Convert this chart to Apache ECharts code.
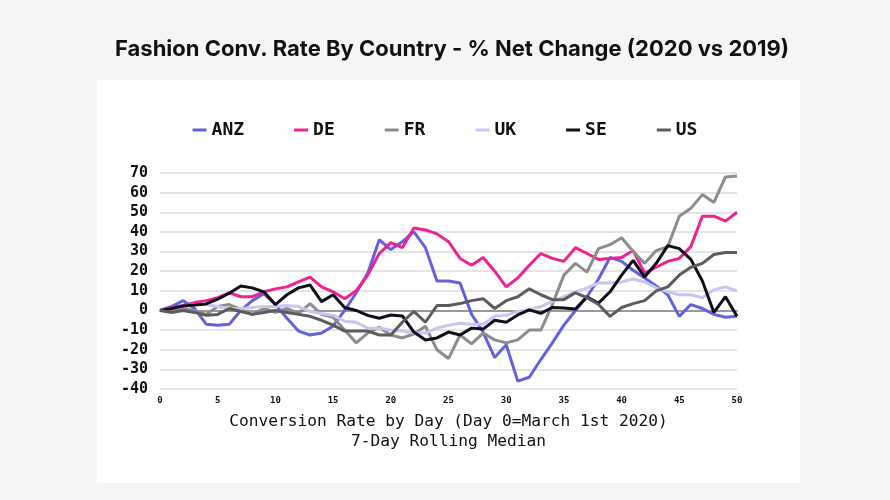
<!DOCTYPE html>
<html>
<head>
<meta charset="utf-8">
<style>
  html, body { margin: 0; padding: 0; background: #f5f5f5; }
  #chart { width: 890px; height: 500px; }
</style>
<script src="https://cdn.jsdelivr.net/npm/echarts@6/dist/echarts.min.js"></script>
</head>
<body>
<div id="chart"></div>
<script>
// day 0 = March 1st 2020
var days = [];
for (var d = 0; d <= 50; d++) days.push(String(d));

var anz = [0, 2, 5, 1, -7, -7.5, -7, 0, 5, 8.5, 3,
  -4, -10.5, -12.5, -11.5, -8, 0, 9, 19, 36, 31,
  35, 40, 32, 15, 15, 14, -2, -11, -24, -17.5,
  -36, -34, -25, -16.5, -7.5, 0, 7, 16, 27, 25,
  20.5, 16.5, 12.5, 8, -3, 3, 1, -2, -3.5, -3];
var de = [0, 1.5, 2.5, 4, 5, 6.5, 9, 7, 7, 9.5, 11,
  12, 14.5, 17, 12, 9.5, 6, 10, 18, 29, 34.5,
  32, 42, 41, 39, 35, 26.5, 23, 27, 20, 12,
  16.5, 23, 29, 26.5, 25, 32, 29, 26, 26.5, 27,
  30.5, 19, 22, 25, 26.5, 32.5, 48, 48, 45.5, 50];
var fr = [0, 0, 1, 0, -2, 2, 3, 0.5, -2, 1, -1,
  1, -1.5, 3.5, -2, -3.5, -10, -16.5, -11.5, -8.5, -12.5,
  -14, -12, -8, -20, -24.5, -12.5, -17, -11.5, -15, -16.5,
  -15, -10, -10, 3, 18, 24, 19.5, 31.5, 33.5, 37,
  30, 24, 30.5, 32.5, 48, 52, 59, 55, 68, 68.5];
var uk = [0, 1, 2, 3, 3, 2, 1, 1, 1.5, 2, 2,
  2.5, 2, -0.5, -1.5, -2.5, -5.5, -6, -9, -9, -10,
  -10.5, -11.5, -11.5, -9, -7.5, -6.5, -7, -7, -3, -2.5,
  -0.5, 0.5, 2, 4.5, 7, 9.5, 11.5, 14, 14, 14.5,
  16, 14.5, 11.5, 9.5, 8, 8, 6.5, 10.5, 12, 10];
var se = [0, 1, 2.3, 2.8, 3.3, 5.8, 8.8, 12.5, 11.5, 9.5, 3,
  8, 11.5, 13, 4.5, 8, 1.5, 0, -2.5, -4, -2.3,
  -2.8, -11, -15, -14, -11, -12.5, -9, -9.5, -5, -6,
  -2.3, 0.3, -1.5, 1.5, 1.2, 0.7, 7, 3.7, 9.5, 18,
  25.5, 17, 24, 33, 31.5, 26, 15, -1, 7, -3];
var us = [0, -1, 0, -1, -2.5, -2, 1, -0.5, -2, -1, 0,
  -1, -2, -3, -5, -7.5, -10.5, -10.5, -10.5, -12.5, -12.5,
  -6, -0.5, -6, 2.5, 2.5, 3.5, 5, 6, 1, 5,
  7, 11, 8, 5.5, 5.5, 9, 6.5, 3, -3, 1.5,
  3.5, 5, 10, 12, 18, 22, 24, 28.5, 29.5, 29.5];

var names = ['ANZ', 'DE', 'FR', 'UK', 'SE', 'US'];
var colors = ['#6461dd', '#ee2290', '#8c8c8c', '#c8c5f0', '#10101c', '#5c5c5c'];
var values = [anz, de, fr, uk, se, us];

var mono = '"DejaVu Sans Mono", monospace';

var series = [];
for (var i = 0; i < names.length; i++) {
  series.push({
    name: names[i], type: 'line', data: values[i],
    symbol: 'none', smooth: false,
    lineStyle: {width: 3, color: colors[i]},
    itemStyle: {color: colors[i]}
  });
}

var chart = echarts.init(document.getElementById('chart'));
chart.setOption({
  backgroundColor: '#f5f5f5',
  animation: false,
  color: colors,
  graphic: [{
    type: 'rect', z: -1, silent: true,
    shape: {x: 97, y: 80, width: 703, height: 403},
    style: {fill: '#ffffff'}
  }],
  title: {
    text: 'Fashion Conv. Rate By Country - % Net Change (2020 vs 2019)',
    left: 110, top: 33,
    textStyle: {fontFamily: 'Inter, sans-serif', fontWeight: 'bold', fontSize: 22, color: '#111'}
  },
  legend: {
    data: names, top: 116, left: 'center',
    icon: 'rect', itemWidth: 14, itemHeight: 3, itemGap: 50,
    textStyle: {fontFamily: mono, fontWeight: 'bold', fontSize: 18, color: '#111'}
  },
  grid: {left: 160, right: 153, top: 173, bottom: 111},
  xAxis: {
    type: 'category', data: days, boundaryGap: false,
    name: 'Conversion Rate by Day (Day 0=March 1st 2020)\n7-Day Rolling Median',
    nameLocation: 'middle', nameGap: 23,
    nameTextStyle: {fontFamily: mono, fontSize: 16.2, color: '#111', lineHeight: 20},
    axisLine: {lineStyle: {color: '#999', width: 2}},
    axisTick: {show: false},
    axisLabel: {interval: 4, fontFamily: mono, fontWeight: 'bold', fontSize: 9, color: '#111', margin: 7},
    splitLine: {show: false}
  },
  yAxis: {
    type: 'value', min: -40, max: 70, interval: 10,
    axisLine: {show: false}, axisTick: {show: false},
    axisLabel: {fontFamily: mono, fontWeight: 'bold', fontSize: 15, color: '#111', margin: 12},
    splitLine: {lineStyle: {color: '#e4e4e4', width: 2}}
  },
  series: series
});
</script>
</body>
</html>
